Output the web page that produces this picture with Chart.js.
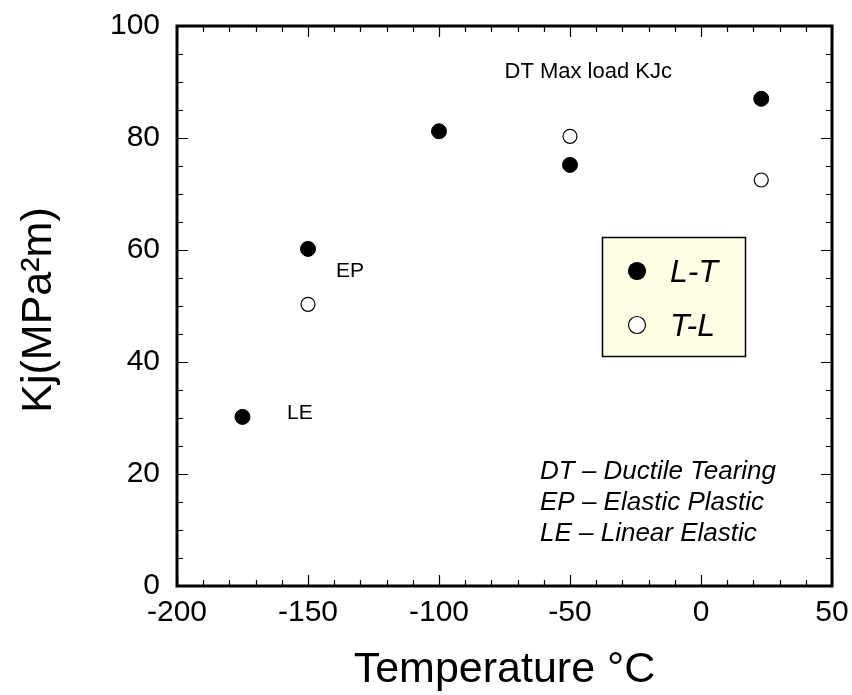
<!DOCTYPE html>
<html><head><meta charset="utf-8">
<script src="https://cdn.jsdelivr.net/npm/chart.js@4/dist/chart.umd.min.js"></script>
<style>html,body{margin:0;padding:0;background:#fff}#wrap{width:852px;height:695px}</style>
</head><body><div id="wrap"><canvas id="c" width="852" height="695"></canvas></div>
<script>
const ltTemp = [-175, -150, -100, -50, 23];
const ltKj = [30.2, 60.2, 81.2, 75.2, 87];
const tlTemp = [-150, -50, 23];
const tlKj = [50.3, 80.3, 72.5];
const xTicks = [-200, -150, -100, -50, 0, 50];
const yTicks = [0, 20, 40, 60, 80, 100];
const annotations = [
  {x: -75, y: 91.8, text: 'DT Max load KJc', size: 22},
  {x: -139.3, y: 56.3, text: 'EP', size: 21},
  {x: -158, y: 30.9, text: 'LE', size: 21}
];
const noteLines = ['DT \u2013 Ductile Tearing', 'EP \u2013 Elastic Plastic', 'LE \u2013 Linear Elastic'];
const legendLabels = ['L-T', 'T-L'];

const FONT = 'Arial, "Liberation Sans", sans-serif';

const framePlugin = {
  id: 'frame',
  afterDatasetsDraw(chart) {
    const ctx = chart.ctx, a = chart.chartArea;
    const xs = chart.scales.x, ys = chart.scales.y;
    ctx.save();
    ctx.strokeStyle = '#000';
    ctx.lineWidth = 1.2;
    for (let v = -200; v <= 50; v += 10) {
      const px = Math.round(xs.getPixelForValue(v)) + 0.5;
      const len = (v % 50 === 0) ? 11 : 6;
      ctx.beginPath();
      ctx.moveTo(px, a.bottom); ctx.lineTo(px, a.bottom - len);
      ctx.moveTo(px, a.top); ctx.lineTo(px, a.top + len);
      ctx.stroke();
    }
    for (let v = 0; v <= 100; v += 5) {
      const py = Math.round(ys.getPixelForValue(v)) + 0.5;
      const len = (v % 20 === 0) ? 11 : 6;
      ctx.beginPath();
      ctx.moveTo(a.left, py); ctx.lineTo(a.left + len, py);
      ctx.moveTo(a.right, py); ctx.lineTo(a.right - len, py);
      ctx.stroke();
    }
    ctx.lineWidth = 3;
    ctx.strokeRect(a.left, a.top, a.right - a.left, a.bottom - a.top);

    ctx.fillStyle = '#000';
    ctx.textBaseline = 'middle';
    ctx.textAlign = 'left';
    annotations.forEach(t => {
      ctx.font = t.size + 'px ' + FONT;
      ctx.fillText(t.text, xs.getPixelForValue(t.x), ys.getPixelForValue(t.y));
    });
    ctx.font = 'italic 26px ' + FONT;
    noteLines.forEach((l, i) => {
      ctx.fillText(l, 540, 472 + i * 31);
    });

    ctx.fillStyle = '#FFFFE6';
    ctx.fillRect(602, 237, 144, 120);
    ctx.lineWidth = 1.5;
    ctx.strokeStyle = '#000';
    ctx.strokeRect(602.5, 237.5, 143, 119);
    const lys = [271, 325];
    lys.forEach((ly, i) => {
      ctx.beginPath();
      ctx.arc(637, ly, 8.5, 0, Math.PI * 2);
      ctx.fillStyle = i === 0 ? '#000' : '#fff';
      ctx.fill();
      ctx.lineWidth = 1.2;
      ctx.stroke();
      ctx.fillStyle = '#000';
      ctx.font = 'italic 32px ' + FONT;
      ctx.fillText(legendLabels[i], 670, ly + 2);
    });

    ctx.font = '43px ' + FONT;
    ctx.textAlign = 'center';
    ctx.fillText('Temperature \u00B0C', (a.left + a.right) / 2, 670);
    ctx.save();
    ctx.translate(39, 310);
    ctx.rotate(-Math.PI / 2);
    ctx.fillText('Kj(MPa\u00B2m)', 0, 0);
    ctx.restore();
    ctx.restore();
  }
};

new Chart(document.getElementById('c'), {
  type: 'scatter',
  data: {
    datasets: [
      {label: 'L-T', data: ltTemp.map((x, i) => ({x, y: ltKj[i]})), pointRadius: 7.5, pointBackgroundColor: '#000', pointBorderColor: '#000', pointBorderWidth: 1},
      {label: 'T-L', data: tlTemp.map((x, i) => ({x, y: tlKj[i]})), pointRadius: 7, pointBackgroundColor: '#fff', pointBorderColor: '#000', pointBorderWidth: 1.2}
    ]
  },
  options: {
    responsive: false,
    animation: false,
    events: [],
    layout: {padding: {top: 26, right: 20, left: 0, bottom: 0}},
    plugins: {legend: {display: false}, tooltip: {enabled: false}},
    scales: {
      x: {
        type: 'linear', min: -200, max: 50,
        afterBuildTicks: s => { s.ticks = xTicks.map(v => ({value: v})); },
        afterFit: s => { s.height = 109; s.paddingLeft = 0; s.paddingRight = 0; },
        grid: {display: false, drawTicks: false},
        border: {display: false},
        ticks: {color: '#000', font: {size: 30, family: FONT}, padding: 9, maxRotation: 0}
      },
      y: {
        type: 'linear', min: 0, max: 100,
        afterBuildTicks: s => { s.ticks = yTicks.map(v => ({value: v})); },
        afterFit: s => { s.width = 177; s.paddingTop = 0; s.paddingBottom = 0; },
        grid: {display: false, drawTicks: false},
        border: {display: false},
        ticks: {color: '#000', font: {size: 30, family: FONT}, padding: 17}
      }
    }
  },
  plugins: [framePlugin]
});
</script></body></html>
